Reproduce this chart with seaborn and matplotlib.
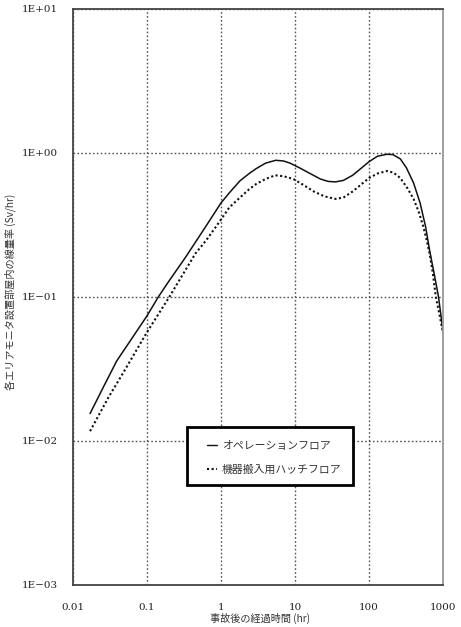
import matplotlib
matplotlib.use("Agg")
import matplotlib.pyplot as plt
import matplotlib.ticker as mticker
from matplotlib.lines import Line2D
from matplotlib.patches import Rectangle
import seaborn as sns
import pandas as pd

# ---- data ----
op_time = [0.017, 0.025, 0.039, 0.06, 0.1, 0.142, 0.2, 0.33, 0.6, 1.0, 1.3, 1.8, 2.4, 3.0,
           4.0, 5.5, 7.0, 8.6, 12, 16, 22, 28, 35, 45, 60, 80, 100, 130, 175, 210,
           265, 320, 400, 490, 580, 660, 760, 870, 1000]
op_rate = [0.0155, 0.023, 0.036, 0.05, 0.074, 0.100, 0.13, 0.188, 0.30, 0.45, 0.53, 0.64, 0.72, 0.78,
           0.85, 0.89, 0.88, 0.85, 0.78, 0.72, 0.66, 0.635, 0.63, 0.645, 0.70, 0.79, 0.87, 0.95, 0.98, 0.975,
           0.91, 0.79, 0.62, 0.45, 0.31, 0.21, 0.145, 0.10, 0.058]

hatch_time = [0.017, 0.03, 0.05, 0.1, 0.2, 0.45, 0.64, 1.0, 1.3, 1.8, 2.4, 3.0, 4.0, 5.4, 7.0,
              9.5, 13, 18, 25, 35, 45, 60, 80, 100, 130, 175, 215, 265, 330, 400, 470,
              540, 600, 660, 730, 800, 900, 1000]
hatch_rate = [0.0117, 0.020, 0.031, 0.057, 0.100, 0.20, 0.25, 0.345, 0.42, 0.49, 0.56, 0.61, 0.66, 0.70, 0.69,
              0.66, 0.60, 0.54, 0.50, 0.48, 0.49, 0.54, 0.61, 0.67, 0.72, 0.75, 0.73, 0.67, 0.57, 0.48, 0.39,
              0.31, 0.25, 0.20, 0.145, 0.10, 0.075, 0.056]

series_names = ["オペレーションフロア", "機器搬入用ハッチフロア"]
y_tick_vals = [1e-3, 1e-2, 1e-1, 1e0, 1e1]
y_tick_labels = ["1E\u221203", "1E\u221202", "1E\u221201", "1E+00", "1E+01"]
x_tick_vals = [0.01, 0.1, 1, 10, 100, 1000]
x_tick_labels = ["0.01", "0.1", "1", "10", "100", "1000"]
x_label = "事故後の経過時間 (hr)"
y_label = "各エリアモニタ設置部屋内の線量率 (Sv/hr)"

sns.set_style("white")
plt.rcParams["font.family"] = ["DejaVu Serif"]
jp_family = ["Noto Sans CJK JP", "DejaVu Sans"]

dotted = (0, (1, 1.2))

fig = plt.figure(figsize=(4.61, 6.27), dpi=100)
ax = fig.add_axes([73 / 461, 42 / 627, 370 / 461, 576 / 627])

df_op = pd.DataFrame({"t": op_time, "r": op_rate})
df_h = pd.DataFrame({"t": hatch_time, "r": hatch_rate})
sns.lineplot(data=df_op, x="t", y="r", ax=ax, color="#111111", lw=1.1, sort=False)
sns.lineplot(data=df_h, x="t", y="r", ax=ax, color="#111111", lw=1.5,
             linestyle=dotted, sort=False)

ax.set_xscale("log")
ax.set_yscale("log")
ax.set_xlim(0.01, 1000)
ax.set_ylim(1e-3, 10)

ax.xaxis.set_major_locator(mticker.FixedLocator(x_tick_vals))
ax.xaxis.set_major_formatter(mticker.FixedFormatter(x_tick_labels))
ax.yaxis.set_major_locator(mticker.FixedLocator(y_tick_vals))
ax.yaxis.set_major_formatter(mticker.FixedFormatter(y_tick_labels))
ax.xaxis.set_minor_locator(mticker.LogLocator(base=10, subs=range(2, 10), numticks=20))
ax.yaxis.set_minor_locator(mticker.LogLocator(base=10, subs=range(2, 10), numticks=20))
ax.xaxis.set_minor_formatter(mticker.NullFormatter())
ax.yaxis.set_minor_formatter(mticker.NullFormatter())

ax.tick_params(axis="x", which="major", direction="in", length=4, width=1,
               color="#333333", pad=13, labelsize=7.5, labelcolor="#222222")
ax.tick_params(axis="y", which="major", direction="in", length=5, width=1,
               color="#333333", pad=11, labelsize=7.5, labelcolor="#222222")
ax.tick_params(axis="x", which="minor", direction="in", length=2.2, width=0.9, color="#333333")
ax.tick_params(axis="y", which="minor", direction="in", length=3.4, width=0.9, color="#333333")
ax.set_xlabel("")
ax.set_ylabel("")

ax.grid(True, which="major", linestyle=(0, (1.2, 1.6)), color="#555555", lw=1.0)
for side in ["left", "bottom", "top"]:
    ax.spines[side].set_color("#444444")
    ax.spines[side].set_linewidth(1.3)
ax.spines["right"].set_color("#999999")
ax.spines["right"].set_linewidth(1.3)

# legend box
ax.add_patch(Rectangle((0.307, 0.174), 0.451, 0.101, transform=ax.transAxes,
                       facecolor="white", edgecolor="black", lw=2, zorder=4))
handles = [Line2D([], [], color="#111111", lw=1.0),
           Line2D([], [], color="#111111", lw=1.5, linestyle=dotted)]
leg = ax.legend(handles, series_names, loc="upper left",
                bbox_to_anchor=(0.361, 0.250), frameon=False,
                prop={"family": jp_family, "size": 7.8},
                handlelength=1.0, handletextpad=0.4,
                borderpad=0, labelspacing=1.25, borderaxespad=0)
leg.set_zorder(5)
for t in leg.get_texts():
    t.set_color("#333333")

fig.text(10 / 461, 1 - 292 / 627, y_label, rotation=90, ha="center", va="center",
         family=jp_family, fontsize=7.3, color="#333333")
fig.text(260 / 461, 14 / 627, x_label, ha="center", va="top",
         family=jp_family, fontsize=7.3, color="#333333")

fig.savefig("out.png", dpi=100)
